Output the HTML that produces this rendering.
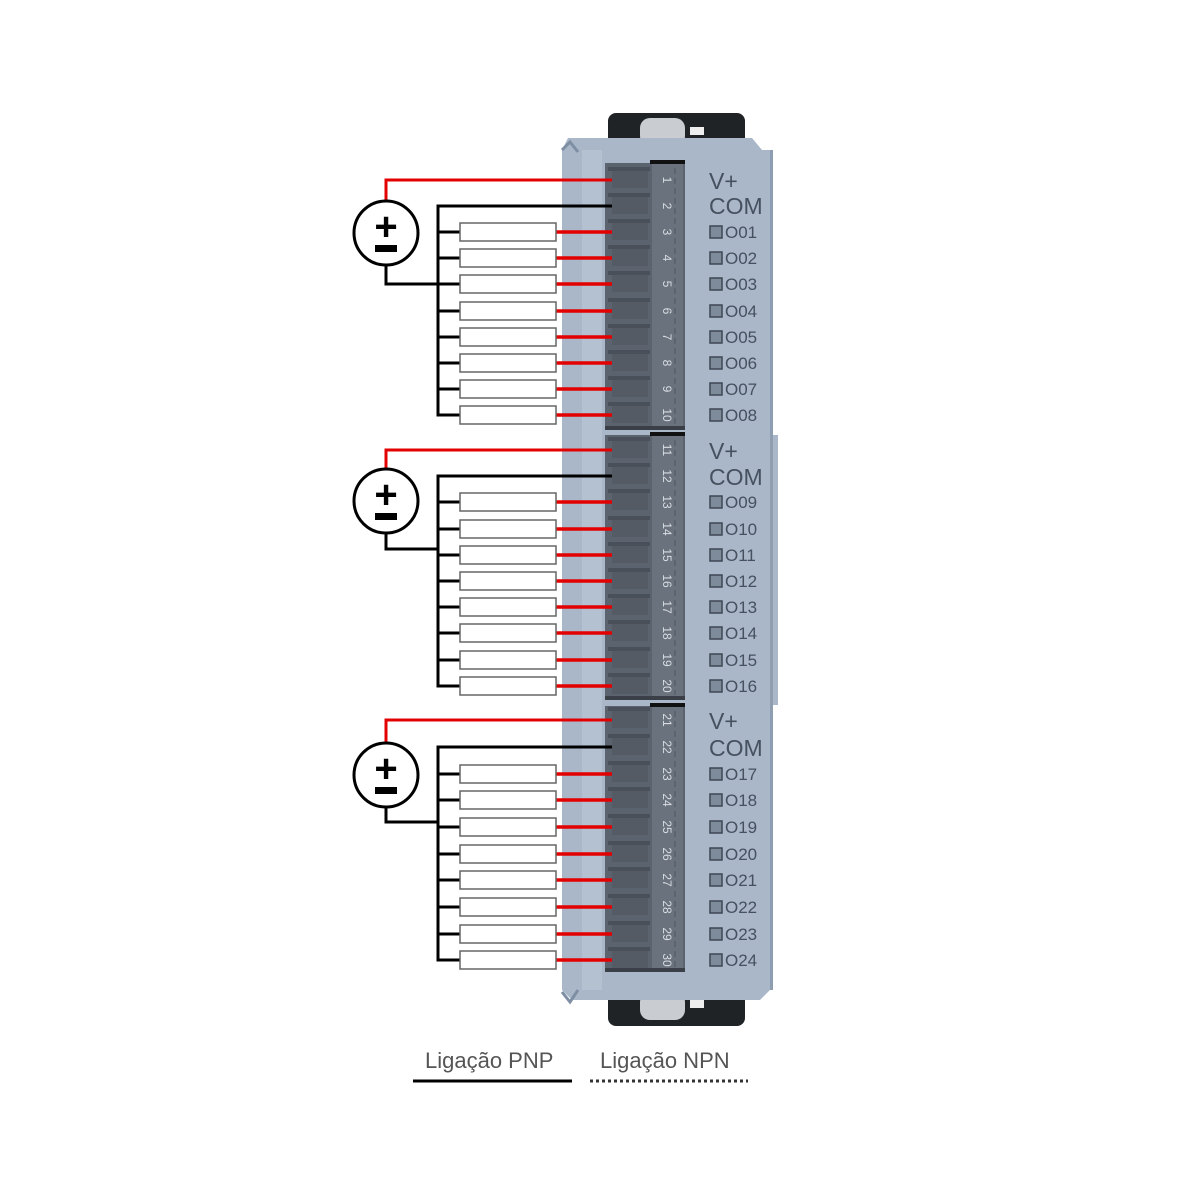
<!DOCTYPE html>
<html><head><meta charset="utf-8"><style>
html,body{margin:0;padding:0;background:#fff;width:1200px;height:1200px;overflow:hidden}
svg{display:block}
.n{font-family:"Liberation Sans",sans-serif;font-size:12px;fill:#d8dde3}
.l{font-family:"Liberation Sans",sans-serif;fill:#46505e}
</style></head><body>
<svg id="s" width="1200" height="1200" viewBox="0 0 1200 1200" xmlns="http://www.w3.org/2000/svg">
<!-- brackets -->
<rect x="608" y="113" width="137" height="40" rx="8" fill="#202326"/>
<rect x="608" y="990" width="137" height="36" rx="8" fill="#202326"/>
<rect x="640" y="118" width="45" height="28" rx="10" fill="#c9ccd0"/>
<rect x="640" y="992" width="45" height="28" rx="10" fill="#c9ccd0"/>
<rect x="690" y="127" width="14" height="8" fill="#eee"/>
<rect x="690" y="1000" width="14" height="8" fill="#eee"/>
<!-- body -->
<path d="M562 150 L568 138 L752 138 L762 150 L770 150 L770 435 L778 435 L778 705 L770 705 L770 990 L760 1000 L572 1000 L562 990 Z" fill="#a9b7c9"/>
<path d="M562 150 L570 142 L578 152" fill="none" stroke="#7f8fa3" stroke-width="3"/>
<path d="M562 992 L570 1002 L578 990" fill="none" stroke="#7f8fa3" stroke-width="3"/>
<rect x="582" y="150" width="20" height="840" fill="#b4c1d0"/>
<rect x="770" y="150" width="3" height="840" fill="#8f9db0"/>
<g id="g"></g>
<!-- pin numbers -->
<g class="n">
<text transform="translate(663,180) rotate(90)" text-anchor="middle">1</text>
<text transform="translate(663,206) rotate(90)" text-anchor="middle">2</text>
<text transform="translate(663,232) rotate(90)" text-anchor="middle">3</text>
<text transform="translate(663,258) rotate(90)" text-anchor="middle">4</text>
<text transform="translate(663,284) rotate(90)" text-anchor="middle">5</text>
<text transform="translate(663,311) rotate(90)" text-anchor="middle">6</text>
<text transform="translate(663,337) rotate(90)" text-anchor="middle">7</text>
<text transform="translate(663,363) rotate(90)" text-anchor="middle">8</text>
<text transform="translate(663,389) rotate(90)" text-anchor="middle">9</text>
<text transform="translate(663,415) rotate(90)" text-anchor="middle">10</text>
<text transform="translate(663,450) rotate(90)" text-anchor="middle">11</text>
<text transform="translate(663,476) rotate(90)" text-anchor="middle">12</text>
<text transform="translate(663,502) rotate(90)" text-anchor="middle">13</text>
<text transform="translate(663,529) rotate(90)" text-anchor="middle">14</text>
<text transform="translate(663,555) rotate(90)" text-anchor="middle">15</text>
<text transform="translate(663,581) rotate(90)" text-anchor="middle">16</text>
<text transform="translate(663,607) rotate(90)" text-anchor="middle">17</text>
<text transform="translate(663,633) rotate(90)" text-anchor="middle">18</text>
<text transform="translate(663,660) rotate(90)" text-anchor="middle">19</text>
<text transform="translate(663,686) rotate(90)" text-anchor="middle">20</text>
<text transform="translate(663,720) rotate(90)" text-anchor="middle">21</text>
<text transform="translate(663,747) rotate(90)" text-anchor="middle">22</text>
<text transform="translate(663,774) rotate(90)" text-anchor="middle">23</text>
<text transform="translate(663,800) rotate(90)" text-anchor="middle">24</text>
<text transform="translate(663,827) rotate(90)" text-anchor="middle">25</text>
<text transform="translate(663,854) rotate(90)" text-anchor="middle">26</text>
<text transform="translate(663,880) rotate(90)" text-anchor="middle">27</text>
<text transform="translate(663,907) rotate(90)" text-anchor="middle">28</text>
<text transform="translate(663,934) rotate(90)" text-anchor="middle">29</text>
<text transform="translate(663,960) rotate(90)" text-anchor="middle">30</text>
</g>
<!-- labels -->
<g class="l" font-size="23">
<text x="709" y="189">V+</text><text x="709" y="214">COM</text>
<text x="709" y="459">V+</text><text x="709" y="485">COM</text>
<text x="709" y="729">V+</text><text x="709" y="756">COM</text>
</g>
<g class="l" font-size="17">
<text x="725" y="238">O01</text><text x="725" y="264">O02</text><text x="725" y="290">O03</text><text x="725" y="317">O04</text>
<text x="725" y="343">O05</text><text x="725" y="369">O06</text><text x="725" y="395">O07</text><text x="725" y="421">O08</text>
<text x="725" y="508">O09</text><text x="725" y="535">O10</text><text x="725" y="561">O11</text><text x="725" y="587">O12</text>
<text x="725" y="613">O13</text><text x="725" y="639">O14</text><text x="725" y="666">O15</text><text x="725" y="692">O16</text>
<text x="725" y="780">O17</text><text x="725" y="806">O18</text><text x="725" y="833">O19</text><text x="725" y="860">O20</text>
<text x="725" y="886">O21</text><text x="725" y="913">O22</text><text x="725" y="940">O23</text><text x="725" y="966">O24</text>
</g>
<!-- power symbols -->
<g font-family="Liberation Sans,sans-serif" font-weight="bold">
<text x="386" y="240" font-size="40" text-anchor="middle">+</text>
<text x="386" y="508" font-size="40" text-anchor="middle">+</text>
<text x="386" y="782" font-size="40" text-anchor="middle">+</text>
</g>
<!-- legend -->
<text x="425" y="1068" font-family="Liberation Sans,sans-serif" font-size="22" fill="#555">Ligação PNP</text>
<text x="600" y="1068" font-family="Liberation Sans,sans-serif" font-size="22" fill="#555">Ligação NPN</text>
<line x1="413" y1="1081" x2="572" y2="1081" stroke="#000" stroke-width="3"/>
<line x1="590" y1="1081" x2="748" y2="1081" stroke="#333" stroke-width="3" stroke-dasharray="3,3"/>
</svg>
<script>
var NS="http://www.w3.org/2000/svg",g=document.getElementById("g");
function e(t,a){var x=document.createElementNS(NS,t);for(var k in a)x.setAttribute(k,a[k]);g.appendChild(x);return x;}
var blocks=[{top:163,bot:430,pins:[180,206,232,258,284,311,337,363,389,415],cy:233,by:284},
{top:435,bot:700,pins:[450,476,502,529,555,581,607,633,660,686],cy:501,by:549},
{top:706,bot:972,pins:[720,747,774,800,827,854,880,907,934,960],cy:775,by:822}];
blocks.forEach(function(b){
 e("rect",{x:605,y:b.top,width:80,height:b.bot-b.top,fill:"#5b636e"});
 e("rect",{x:652,y:b.top,width:31,height:b.bot-b.top,fill:"#6a727d"});
 e("rect",{x:650,y:b.top-3,width:35,height:4,fill:"#111"});
 e("line",{x1:675,y1:b.top+5,x2:675,y2:b.bot-5,stroke:"#4f5660","stroke-width":1,"stroke-dasharray":"6,4"});
 b.pins.forEach(function(y,i){
  e("rect",{x:608,y:y-13,width:42,height:4,fill:"#4a5059"});
  e("rect",{x:612,y:y-9,width:36,height:17,fill:"#545b65"});
 });
 e("rect",{x:605,y:b.bot-4,width:80,height:4,fill:"#3b4048"});
 var p=b.pins;
 e("polyline",{points:"386,"+(b.cy-33)+" 386,"+p[0]+" 612,"+p[0],fill:"none",stroke:"#e30000","stroke-width":3});
 e("polyline",{points:"612,"+p[1]+" 438,"+p[1]+" 438,"+p[9]+" 460,"+p[9],fill:"none",stroke:"#000","stroke-width":3});
 e("polyline",{points:"386,"+(b.cy+33)+" 386,"+b.by+" 438,"+b.by,fill:"none",stroke:"#000","stroke-width":3});
 e("circle",{cx:386,cy:b.cy,r:32,fill:"#fff",stroke:"#000","stroke-width":3});
 e("rect",{x:375,y:b.cy+12,width:22,height:7,fill:"#000"});
 for(var i=2;i<10;i++){
  var y=p[i];
  e("line",{x1:438,y1:y,x2:460,y2:y,stroke:"#000","stroke-width":3});
  e("line",{x1:556,y1:y,x2:612,y2:y,stroke:"#e30000","stroke-width":3.5});
  e("rect",{x:460,y:y-9,width:96,height:18,fill:"#fff",stroke:"#666","stroke-width":1.5});
 }
});
for(var i=0;i<24;i++){var b=blocks[Math.floor(i/8)];var y=b.pins[2+i%8];
 e("rect",{x:710,y:y-6,width:12,height:12,fill:"#7e8b9b",stroke:"#3f4752","stroke-width":1.5});}
</script>
</body></html>
